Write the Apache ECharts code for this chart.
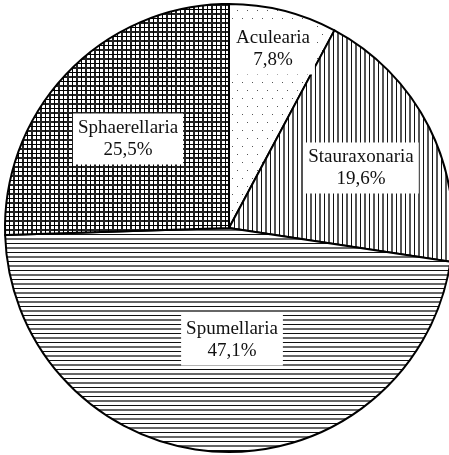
<!DOCTYPE html>
<html>
<head>
<meta charset="utf-8">
<script src="https://cdn.jsdelivr.net/npm/echarts@6/dist/echarts.min.js"></script>
<style>
html, body { margin: 0; padding: 0; background: #fff; }
#chart { width: 449px; height: 455px; }
</style>
</head>
<body>
<div id="chart"></div>
<script>
// slices, clockwise from 12 o'clock
var names = ["Aculearia", "Stauraxonaria", "Spumellaria", "Sphaerellaria"];
var shares = [7.8, 19.6, 47.1, 25.5];
var shareLabels = ["7,8%", "19,6%", "47,1%", "25,5%"];

// hatch fills, one per slice
function makeTile(w, h, draw) {
  var c = document.createElement("canvas");
  c.width = w;
  c.height = h;
  var ctx = c.getContext("2d");
  ctx.fillStyle = "#fff";
  ctx.fillRect(0, 0, w, h);
  draw(ctx);
  return { image: c, repeat: "repeat" };
}

var dots = makeTile(20, 16, function (ctx) {
  ctx.fillStyle = "#555";
  ctx.fillRect(2, 2, 1, 1);
  ctx.fillRect(12, 2, 1, 1);
  ctx.fillRect(7, 10, 1, 1);
  ctx.fillRect(17, 10, 1, 1);
});
var vlines = makeTile(9, 9, function (ctx) {
  ctx.fillStyle = "#111";
  ctx.fillRect(0, 0, 1, 9);
  ctx.fillStyle = "#555";
  ctx.fillRect(4, 0, 2, 9);
});
var hlines = makeTile(9, 9, function (ctx) {
  ctx.fillStyle = "#111";
  ctx.fillRect(0, 0, 9, 1);
  ctx.fillStyle = "#666";
  ctx.fillRect(0, 4, 9, 2);
});
var grid = makeTile(9, 9, function (ctx) {
  ctx.fillStyle = "#222";
  ctx.fillRect(4, 0, 2, 9);
  ctx.fillRect(0, 4, 9, 2);
  ctx.fillStyle = "#000";
  ctx.fillRect(0, 0, 1, 9);
  ctx.fillRect(0, 0, 9, 1);
});
var fills = [dots, vlines, hlines, grid];

// where the label boxes sit
var labelXY = [[273, 49], [361, 168], [232, 340], [128, 139]];

var myChart = echarts.init(document.getElementById("chart"));
myChart.setOption({
  animation: false,
  series: [
    {
      type: "pie",
      center: [229, 228],
      radius: 224,
      startAngle: 90,
      clockwise: true,
      avoidLabelOverlap: false,
      itemStyle: { borderColor: "#000", borderWidth: 2 },
      label: {
        show: true,
        position: "inside",
        fontFamily: "Liberation Serif",
        fontSize: 19,
        lineHeight: 22,
        color: "#111",
        backgroundColor: "#fff",
        padding: [4, 5, 3, 5],
        align: "center",
        formatter: function (p) {
          return names[p.dataIndex] + "\n" + shareLabels[p.dataIndex];
        }
      },
      labelLine: { show: false },
      labelLayout: function (p) {
        return {
          x: labelXY[p.dataIndex][0],
          y: labelXY[p.dataIndex][1],
          align: "center",
          verticalAlign: "middle"
        };
      },
      emphasis: { disabled: true },
      data: names.map(function (n, i) {
        return { name: n, value: shares[i], itemStyle: { color: fills[i] } };
      })
    }
  ]
});
window.addEventListener("resize", function () {
  myChart.resize();
});
</script>
</body>
</html>
